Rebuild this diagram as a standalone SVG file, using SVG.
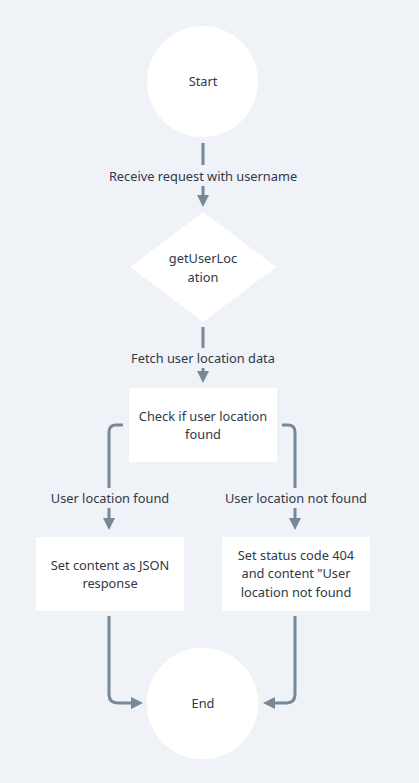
<svg xmlns="http://www.w3.org/2000/svg" width="419" height="783" viewBox="0 0 419 783">
<defs>
<marker id="ah" viewBox="0 0 10 10" refX="5" refY="5" markerWidth="4" markerHeight="4" markerUnits="strokeWidth" orient="auto">
<path d="M0,0 L10,5 L0,10 z" fill="#778899"/>
</marker>
<style>
.n{fill:#ffffff;}
.t{font-family:"Noto Sans","DejaVu Sans",sans-serif;font-size:12.8px;fill:#2f3946;text-anchor:middle;}
.c{fill:none;stroke:#778899;stroke-width:3;stroke-linecap:butt;}
</style>
</defs>
<rect width="419" height="783" fill="#eff2f6"/>
<g id="edges">
<path class="c" d="M203,143 V165"/>
<path class="c" d="M203,186 V201" marker-end="url(#ah)"/>
<text class="t" x="203" y="181">Receive request with username</text>
<path class="c" d="M203,327 V348"/>
<path class="c" d="M203,368 V377" marker-end="url(#ah)"/>
<text class="t" x="203" y="363">Fetch user location data</text>
<path class="c" d="M123,425 H116 Q109,425 109,432 V488"/>
<path class="c" d="M109,508 V524" marker-end="url(#ah)"/>
<text class="t" x="110" y="503">User location found</text>
<path class="c" d="M282,425 H288 Q295,425 295,432 V488"/>
<path class="c" d="M295,508 V524" marker-end="url(#ah)"/>
<text class="t" x="296" y="503">User location not found</text>
<path class="c" d="M109,616 V694 Q109,703 118,703 H137" marker-end="url(#ah)"/>
<path class="c" d="M295,616 V694 Q295,703 286,703 H269" marker-end="url(#ah)"/>
</g>
<g id="start">
<circle class="n" cx="202.5" cy="81.5" r="55.5"/>
<text class="t" x="203" y="86">Start</text>
</g>
<g id="getUserLocation">
<polygon class="n" points="203,212 276,267 203,322 130,267"/>
<text class="t" x="203" y="263">getUserLoc</text>
<text class="t" x="203" y="282">ation</text>
</g>
<g id="check">
<rect class="n" x="129" y="388" width="148" height="74" rx="1"/>
<text class="t" x="203" y="421">Check if user location</text>
<text class="t" x="203" y="439">found</text>
</g>
<g id="json">
<rect class="n" x="36" y="537" width="148" height="74" rx="1"/>
<text class="t" x="110" y="570">Set content as JSON</text>
<text class="t" x="110" y="588">response</text>
</g>
<g id="notfound">
<rect class="n" x="222" y="537" width="148" height="74" rx="1"/>
<text class="t" x="296" y="560">Set status code 404</text>
<text class="t" x="296" y="578">and content "User</text>
<text class="t" x="296" y="597">location not found</text>
</g>
<g id="end">
<circle class="n" cx="202.5" cy="703.5" r="55.8"/>
<text class="t" x="203" y="708">End</text>
</g>
</svg>
